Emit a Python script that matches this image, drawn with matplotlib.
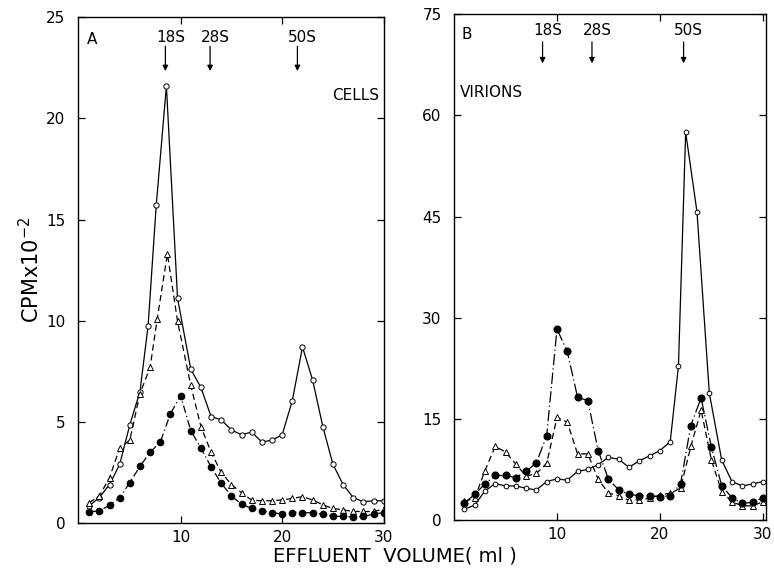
import matplotlib
matplotlib.use("Agg")
import matplotlib.pyplot as plt

# ---- panel A (cells) ----
x_a = list(range(1, 31))
open_a_x = [1, 2, 3, 4, 5, 6, 6.8, 7.6, 8.6, 9.7] + list(range(11, 31))
open_a = [0.85, 1.26, 1.9, 2.9, 4.85, 6.5, 9.75, 15.7, 21.6, 11.1,
          7.6, 6.7, 5.26, 5.1, 4.6, 4.36, 4.5, 4.0, 4.1, 4.36,
          6.05, 8.7, 7.06, 4.77, 2.9, 1.9, 1.26, 1.05, 1.1, 1.1]
tri_a_x = [1, 2, 3, 4, 5, 6, 7, 7.7, 8.7, 9.7] + list(range(11, 31))
tri_a = [1.0, 1.34, 2.24, 3.7, 4.1, 6.4, 7.7, 10.1, 13.3, 9.97,
         6.8, 4.77, 3.5, 2.5, 1.9, 1.5, 1.13, 1.1, 1.1, 1.14,
         1.22, 1.3, 1.14, 0.9, 0.72, 0.65, 0.57, 0.57, 0.57, 0.69]
filled_a = [0.55, 0.6, 0.88, 1.26, 2.0, 2.8, 3.5, 4.0, 5.4, 6.3,
            4.57, 3.7, 2.78, 1.96, 1.34, 0.93, 0.72, 0.6, 0.52, 0.44,
            0.52, 0.52, 0.5, 0.44, 0.33, 0.33, 0.3, 0.33, 0.44, 0.52]

# ---- panel B (virions) ----
x_b = list(range(1, 31))
open_b_x = list(range(1, 22)) + [21.8, 22.5, 23.6, 24.8, 26, 27, 28, 29, 30]
open_b = [1.6, 2.2, 4.3, 5.4, 5.05, 5.05, 4.7, 4.46, 5.7, 6.1,
          5.9, 7.2, 7.5, 8.2, 9.3, 9.0, 7.8, 8.8, 9.5, 10.3,
          11.6, 22.8, 57.5, 45.7, 18.8, 8.9, 5.7, 5.05, 5.35, 5.7]
filled_b = [2.5, 3.8, 5.35, 6.6, 6.6, 6.3, 7.2, 8.5, 12.5, 28.3,
            25.0, 18.2, 17.7, 10.3, 6.05, 4.46, 3.8, 3.6, 3.6, 3.46,
            3.6, 5.35, 14.0, 18.1, 10.8, 5.1, 3.3, 2.5, 2.6, 3.3]
tri_b = [2.8, 3.2, 7.3, 10.9, 10.1, 8.3, 6.5, 6.9, 8.4, 15.2,
         14.5, 9.8, 9.8, 6.05, 4.0, 3.6, 2.9, 3.0, 3.2, 3.7,
         4.0, 4.7, 10.9, 16.3, 8.9, 4.2, 2.7, 2.1, 2.1, 2.7]

markers_s = ["18S", "28S", "50S"]
marker_pos_a = [8.5, 12.9, 21.5]
marker_pos_b = [8.6, 13.4, 22.3]

fig = plt.figure(figsize=(7.74, 5.69), dpi=100)
ax1 = fig.add_axes([0.1008, 0.0808, 0.395, 0.889])
ax2 = fig.add_axes([0.5866, 0.0861, 0.403, 0.889])

lw = 0.9
ax1.plot(open_a_x, open_a, color="black", lw=lw, ls="-", marker="o",
         ms=3.8, mfc="white", mec="black", mew=0.7)
ax1.plot(tri_a_x, tri_a, color="black", lw=lw, ls=(0, (5, 3)), marker="^",
         ms=4.8, mfc="white", mec="black", mew=0.7)
ax1.plot(x_a, filled_a, color="black", lw=lw, ls=(0, (6, 2.5, 1, 2.5)), marker="o",
         ms=4.5, mfc="black", mec="black")

ax2.plot(open_b_x, open_b, color="black", lw=lw, ls="-", marker="o",
         ms=3.4, mfc="white", mec="black", mew=0.7)
ax2.plot(x_b, tri_b, color="black", lw=lw, ls=(0, (5, 3)), marker="^",
         ms=4.8, mfc="white", mec="black", mew=0.7)
ax2.plot(x_b, filled_b, color="black", lw=lw, ls=(0, (9, 2.5, 1, 2.5)), marker="o",
         ms=4.8, mfc="black", mec="black")

ax1.set_xlim(-0.1, 30.0)
ax1.set_ylim(0, 25)
ax1.set_yticks([0, 5, 10, 15, 20, 25])
ax1.set_xticks([10, 20, 30])

ax2.set_xlim(0, 30.3)
ax2.set_ylim(0, 75)
ax2.set_yticks([0, 15, 30, 45, 60, 75])
ax2.set_xticks([10, 20, 30])

for ax in (ax1, ax2):
    ax.tick_params(direction="in", length=5, width=0.9, top=True, right=True,
                   labelsize=11, pad=9)
    ax.tick_params(axis="x", pad=5)
    for s in ax.spines.values():
        s.set_linewidth(1.0)

# sedimentation markers
for lab, xp in zip(markers_s, marker_pos_a):
    ax1.annotate("", xy=(xp, 22.2), xytext=(xp, 23.7),
                 arrowprops=dict(arrowstyle="-|>", color="black", lw=0.9,
                                 mutation_scale=8))
    ax1.text(xp + 0.5, 24.0, lab, ha="center", va="center", fontsize=11)
for lab, xp in zip(markers_s, marker_pos_b):
    ax2.annotate("", xy=(xp, 67.3), xytext=(xp, 71.3),
                 arrowprops=dict(arrowstyle="-|>", color="black", lw=0.9,
                                 mutation_scale=8))
    ax2.text(xp + 0.5, 72.6, lab, ha="center", va="center", fontsize=11)

ax1.text(0.03, 0.955, "A", transform=ax1.transAxes, fontsize=11, va="center")
ax2.text(0.025, 0.96, "B", transform=ax2.transAxes, fontsize=11, va="center")
ax1.text(0.985, 0.845, "CELLS", transform=ax1.transAxes, fontsize=11,
         ha="right", va="center")
ax2.text(0.02, 0.845, "VIRIONS", transform=ax2.transAxes, fontsize=11,
         ha="left", va="center")

fig.text(0.04, 0.525, "CPMx10$^{-2}$", rotation=90, fontsize=15,
         ha="center", va="center")
fig.text(0.51, 0.022, "EFFLUENT  VOLUME( ml )", fontsize=14,
         ha="center", va="center")

fig.savefig("out.png", dpi=100)
